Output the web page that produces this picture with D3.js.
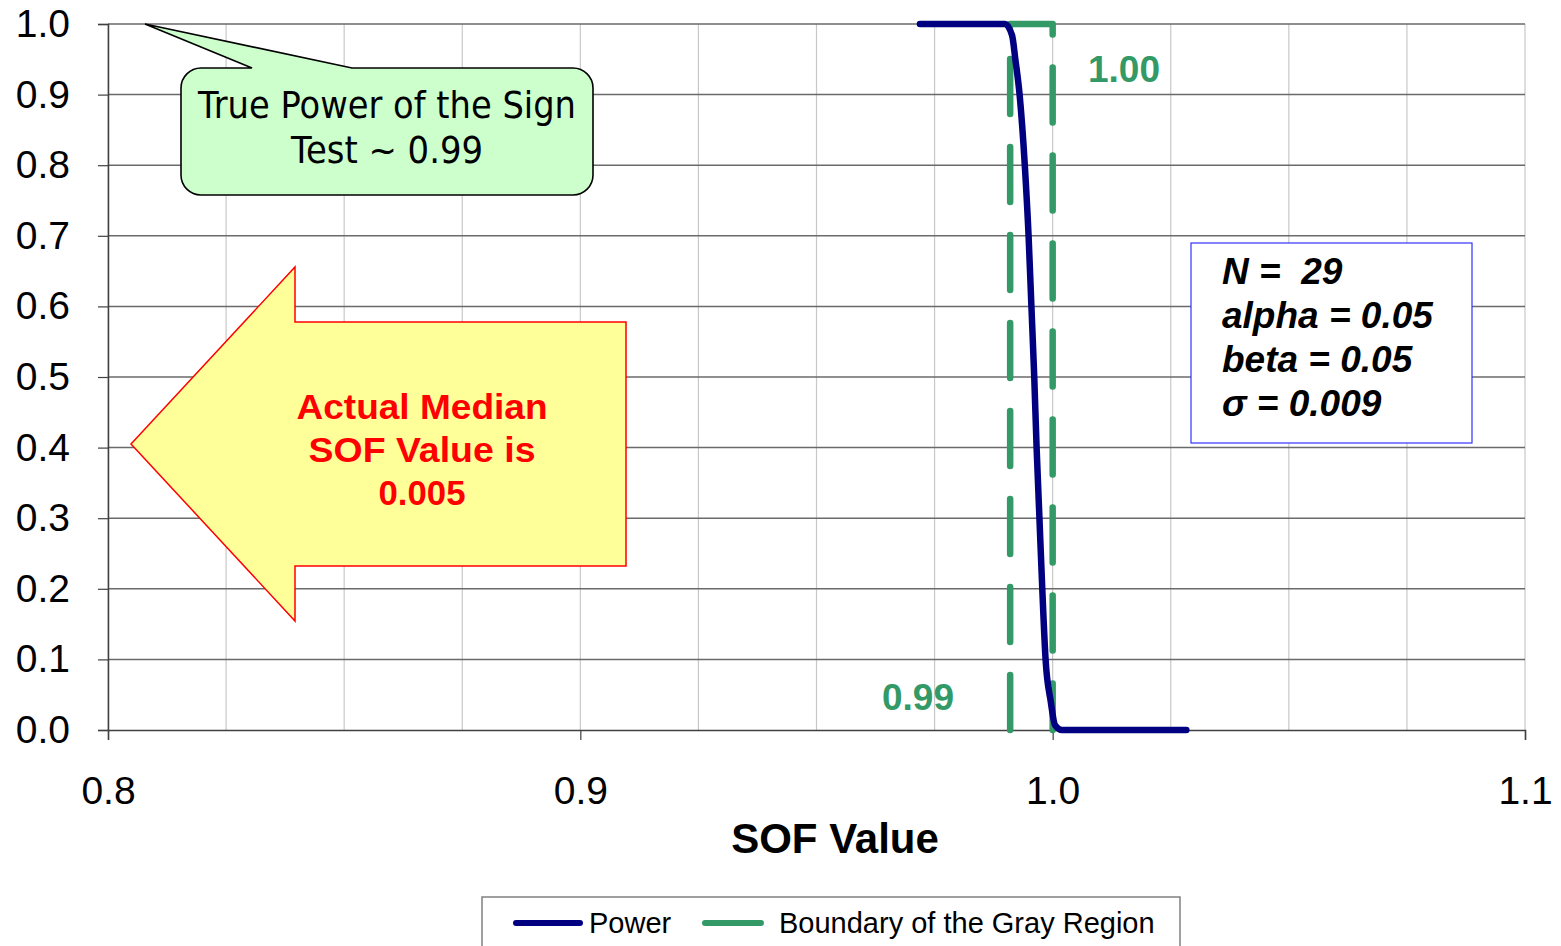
<!DOCTYPE html>
<html><head><meta charset="utf-8">
<script src="https://cdn.jsdelivr.net/npm/d3@7"></script>
<style>
html,body{margin:0;padding:0;background:#fff;}
svg{display:block;font-family:"Liberation Sans",Arial,sans-serif;}
</style></head>
<body>
<svg id="chart" width="1561" height="946"></svg>
<script>
// ---- data ----
const powerX = [0.9719, 0.9899, 0.9914, 0.9921, 0.9930, 0.9941, 0.9949, 0.9955, 0.9961, 0.9966, 0.9972, 0.9978, 0.9985, 0.9996, 1.0005, 1.0020, 1.0283];
const powerY = [1.0, 1.0, 0.984, 0.95, 0.9, 0.8, 0.7, 0.6, 0.5, 0.4, 0.3, 0.2, 0.1, 0.04, 0.007, 0.0, 0.0];
const boundaryX = [0.991, 0.991, 1.0, 1.0];
const boundaryY = [0.0, 1.0, 1.0, 0.0];
const xTicks = [0.8, 0.9, 1.0, 1.1];
const xTickLabels = ["0.8", "0.9", "1.0", "1.1"];
const xMinorGrid = d3.range(0, 13).map(i => 0.8 + i * 0.025);
const yTicks = [0, 0.1, 0.2, 0.3, 0.4, 0.5, 0.6, 0.7, 0.8, 0.9, 1.0];
const yTickLabels = ["0.0","0.1","0.2","0.3","0.4","0.5","0.6","0.7","0.8","0.9","1.0"];
const lowerLabel = "0.99", upperLabel = "1.00";
const calloutText = ["True Power of the Sign", "Test ~ 0.99"];
const arrowText = ["Actual Median", "SOF Value is", "0.005"];
const infoText = ["N =  29", "alpha = 0.05", "beta = 0.05", "\u03C3 = 0.009"];
const legendItems = ["Power", "Boundary of the Gray Region"];
const xTitle = "SOF Value";

// ---- layout ----
const svg = d3.select("#chart");
const L = 108, R = 1525, T = 24, B = 730;
const x = d3.scaleLinear().domain([0.8, 1.1]).range([L, R]);
const y = d3.scaleLinear().domain([0, 1]).range([B, T]);
const navy = "#000080", green = "#339966";

// vertical minor grid
svg.append("g").selectAll("line").data(xMinorGrid).join("line")
  .attr("x1", d => x(d)).attr("x2", d => x(d)).attr("y1", T).attr("y2", B)
  .attr("stroke", "#c8c8c8").attr("stroke-width", 1.2);
// horizontal grid
svg.append("g").selectAll("line").data(yTicks.filter(d => d > 0)).join("line")
  .attr("x1", L).attr("x2", R).attr("y1", d => y(d)).attr("y2", d => y(d))
  .attr("stroke", "#6a6a6a").attr("stroke-width", 1.5);

// axes
const xAxis = svg.append("g").attr("transform", `translate(0,${B})`)
  .call(d3.axisBottom(x).tickValues(xTicks).tickFormat((d, i) => xTickLabels[i]).tickSize(10).tickPadding(36));
xAxis.select(".domain").attr("stroke", "#404040").attr("stroke-width", 1.5);
xAxis.selectAll(".tick line").attr("stroke", "#404040").attr("stroke-width", 1.2);
xAxis.selectAll("text").attr("font-size", 39).attr("fill", "#000").attr("font-family", "Liberation Sans, Arial");

const yAxis = svg.append("g").attr("transform", `translate(${L},0)`)
  .call(d3.axisLeft(y).tickValues(yTicks).tickFormat((d, i) => yTickLabels[i]).tickSize(10).tickPadding(28));
yAxis.select(".domain").attr("stroke", "#404040").attr("stroke-width", 1.5);
yAxis.selectAll(".tick line").attr("stroke", "#404040").attr("stroke-width", 1.2);
yAxis.selectAll("text").attr("font-size", 39).attr("fill", "#000").attr("font-family", "Liberation Sans, Arial");

// x title
svg.append("text").attr("x", 835).attr("y", 853).attr("text-anchor", "middle")
  .attr("font-size", 42).attr("font-weight", "bold").text(xTitle);

// boundary (dashed)
const bData = boundaryX.map((v, i) => [v, boundaryY[i]]);
svg.append("path").datum(bData)
  .attr("d", d3.line().x(d => x(d[0])).y(d => y(d[1])))
  .attr("fill", "none").attr("stroke", green).attr("stroke-width", 6.5)
  .attr("stroke-linecap", "round").attr("stroke-linejoin", "round")
  .attr("stroke-dasharray", "55,33");

// power curve
const pData = powerX.map((v, i) => [v, powerY[i]]);
svg.append("path").datum(pData)
  .attr("d", d3.line().x(d => x(d[0])).y(d => y(d[1])).curve(d3.curveMonotoneX))
  .attr("fill", "none").attr("stroke", navy).attr("stroke-width", 6.5)
  .attr("stroke-linecap", "round").attr("stroke-linejoin", "round");

// boundary labels
svg.append("text").attr("x", 1124).attr("y", 82).attr("text-anchor", "middle")
  .attr("font-size", 37).attr("font-weight", "bold").attr("fill", green).text(upperLabel);
svg.append("text").attr("x", 918).attr("y", 710).attr("text-anchor", "middle")
  .attr("font-size", 37).attr("font-weight", "bold").attr("fill", green).text(lowerLabel);

// callout
{
  const x0 = 181, x1 = 593, y0 = 68, y1 = 195, r = 20;
  const tip = [145, y(1.0)], b1 = 252, b2 = 352;
  const p = d3.path();
  p.moveTo(x0 + r, y0);
  p.lineTo(b1, y0);
  p.lineTo(tip[0], tip[1]);
  p.lineTo(b2, y0);
  p.lineTo(x1 - r, y0);
  p.arcTo(x1, y0, x1, y0 + r, r);
  p.lineTo(x1, y1 - r);
  p.arcTo(x1, y1, x1 - r, y1, r);
  p.lineTo(x0 + r, y1);
  p.arcTo(x0, y1, x0, y1 - r, r);
  p.lineTo(x0, y0 + r);
  p.arcTo(x0, y0, x0 + r, y0, r);
  p.closePath();
  svg.append("path").attr("d", p.toString()).attr("fill", "#ccffcc")
    .attr("stroke", "#000").attr("stroke-width", 1.6).attr("stroke-linejoin", "miter");
  const lens = [378, 192];
  svg.append("g").selectAll("text").data(calloutText).join("text")
    .attr("x", 387).attr("y", (d, i) => 118 + i * 45).attr("text-anchor", "middle")
    .attr("font-size", 38).attr("font-family", "DejaVu Sans, Verdana, sans-serif")
    .attr("textLength", (d, i) => lens[i]).attr("lengthAdjust", "spacingAndGlyphs")
    .attr("fill", "#000").text(d => d);
}

// arrow
{
  const pts = [[131, 444], [295, 267], [295, 322], [626, 322], [626, 566], [295, 566], [295, 621]];
  svg.append("path").attr("d", d3.line()(pts) + "Z").attr("fill", "#ffff99")
    .attr("stroke", "#ff0000").attr("stroke-width", 1.5);
  const lens = [251, 227, 87];
  svg.append("g").selectAll("text").data(arrowText).join("text")
    .attr("x", 422).attr("y", (d, i) => 419 + i * 43).attr("text-anchor", "middle")
    .attr("font-size", 35).attr("font-weight", "bold").attr("fill", "#ff0000")
    .attr("textLength", (d, i) => lens[i]).attr("lengthAdjust", "spacingAndGlyphs")
    .text(d => d);
}

// info box
{
  svg.append("rect").attr("x", 1191).attr("y", 243).attr("width", 281).attr("height", 200)
    .attr("fill", "#fff").attr("stroke", "#3333ff").attr("stroke-width", 1.2);
  svg.append("g").selectAll("text").data(infoText).join("text")
    .attr("x", 1222).attr("y", (d, i) => 284 + i * 44)
    .attr("font-size", 37).attr("font-weight", "bold").attr("font-style", "italic")
    .attr("fill", "#000").attr("xml:space", "preserve").style("white-space", "pre").text(d => d);
}

// legend
{
  svg.append("rect").attr("x", 482).attr("y", 897).attr("width", 698).attr("height", 70)
    .attr("fill", "#fff").attr("stroke", "#808080").attr("stroke-width", 1.5);
  svg.append("line").attr("x1", 516).attr("x2", 580).attr("y1", 923).attr("y2", 923)
    .attr("stroke", navy).attr("stroke-width", 6).attr("stroke-linecap", "round");
  svg.append("line").attr("x1", 705).attr("x2", 761).attr("y1", 923).attr("y2", 923)
    .attr("stroke", green).attr("stroke-width", 6).attr("stroke-linecap", "round");
  svg.append("text").attr("x", 589).attr("y", 933).attr("font-size", 29).text(legendItems[0]);
  svg.append("text").attr("x", 779).attr("y", 933).attr("font-size", 29).text(legendItems[1]);
}
</script>
</body></html>
